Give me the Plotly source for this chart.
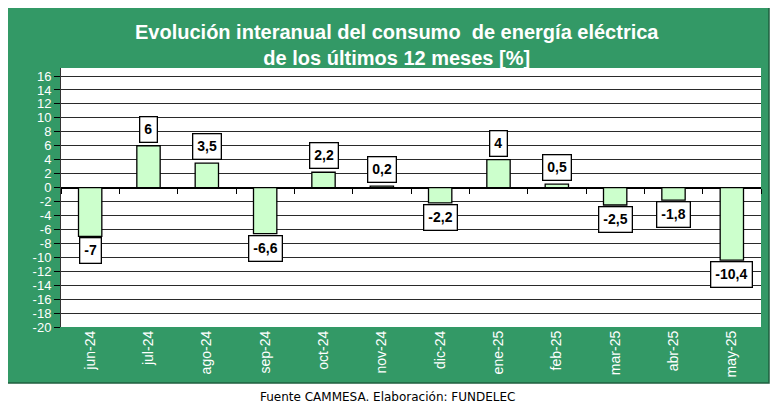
import plotly.graph_objects as go

months = ["jun-24", "jul-24", "ago-24", "sep-24", "oct-24", "nov-24",
          "dic-24", "ene-25", "feb-25", "mar-25", "abr-25", "may-25"]
values = [-7, 6, 3.5, -6.6, 2.2, 0.2, -2.2, 4, 0.5, -2.5, -1.8, -10.4]
y_ticks = list(range(-20, 17, 2))

title_lines = ["Evolución interanual del consumo  de energía eléctrica",
               "de los últimos 12 meses [%]"]
footer = "Fuente CAMMESA. Elaboración: FUNDELEC"

GREEN = "#339966"
BAR = "#ccffcc"

def fmt(v):
    return ("%g" % v).replace(".", ",")

y_min, y_max = -20, 17.15
PW, PH = 700, 259  # plot area size in px

fig = go.Figure()
fig.add_trace(go.Bar(
    x=months, y=values, width=0.4,
    marker=dict(color=BAR, line=dict(color="black", width=1.3)),
    hoverinfo="skip", showlegend=False,
))
# invisible trace carrying the category tick marks on the zero line
fig.add_trace(go.Scatter(
    x=months, y=[0] * len(months), xaxis="x2", mode="markers",
    marker=dict(opacity=0), hoverinfo="skip", showlegend=False,
))

for m, v in zip(months, values):
    pos = v >= 0
    fig.add_annotation(
        x=m, y=v, text="<b>%s</b>" % fmt(v), showarrow=False,
        yanchor="bottom" if pos else "top",
        yshift=3 if pos else -1,
        font=dict(family="Arial, Liberation Sans", size=14, color="black"),
        bgcolor="white", bordercolor="black", borderwidth=1.3, borderpad=4,
    )

fig.add_annotation(
    x=0.48, xref="paper", y=1.0 + 23.5 / PH, yref="paper",
    text="<b>%s<br>%s</b>" % tuple(title_lines), showarrow=False,
    font=dict(family="Arial, Liberation Sans", size=20, color="white"),
    align="center", yanchor="middle",
)
fig.add_annotation(
    x=0.467, xref="paper", y=-70 / PH, yref="paper",
    text=footer, showarrow=False,
    font=dict(family="DejaVu Sans", size=12, color="black"),
    yanchor="middle",
)

fig.add_shape(
    type="rect", xref="paper", yref="paper",
    x0=-54 / PW, x1=708 / PW, y0=-56 / PH, y1=322 / PH,
    fillcolor=GREEN, line=dict(color="#1f5f3f", width=1.5), layer="below",
)
fig.add_shape(
    type="rect", xref="paper", yref="paper",
    x0=0, x1=1, y0=0, y1=1,
    fillcolor="white", line=dict(width=0), layer="below",
)

fig.update_layout(
    width=772, height=404,
    margin=dict(l=53, r=19, t=60, b=85, autoexpand=False),
    paper_bgcolor="white", plot_bgcolor="white",
    xaxis=dict(
        type="category", categoryorder="array", categoryarray=months,
        range=[-0.5, 11.5], tickangle=-90, ticks="",
        tickfont=dict(family="Arial, Liberation Sans", size=14, color="white"),
        showgrid=False, showline=False, zeroline=False,
    ),
    xaxis2=dict(
        type="category", categoryorder="array", categoryarray=months,
        range=[-0.5, 11.5], overlaying="x", anchor="free",
        position=(0 - y_min) / (y_max - y_min),
        ticks="outside", ticklen=5, tickcolor="black", tickwidth=1,
        tickson="boundaries", showticklabels=False,
        showgrid=False, showline=False, zeroline=False,
    ),
    yaxis=dict(
        range=[y_min, y_max], tickvals=y_ticks,
        ticktext=[str(t) for t in y_ticks],
        ticks="outside", ticklen=6, tickcolor="black",
        tickfont=dict(family="Arial, Liberation Sans", size=13, color="white"),
        showgrid=True, gridcolor="#2a2a2a", gridwidth=1,
        zeroline=True, zerolinecolor="black", zerolinewidth=1.5,
        showline=True, linecolor="#333333", linewidth=1,
    ),
)

fig.write_html("out.html")
